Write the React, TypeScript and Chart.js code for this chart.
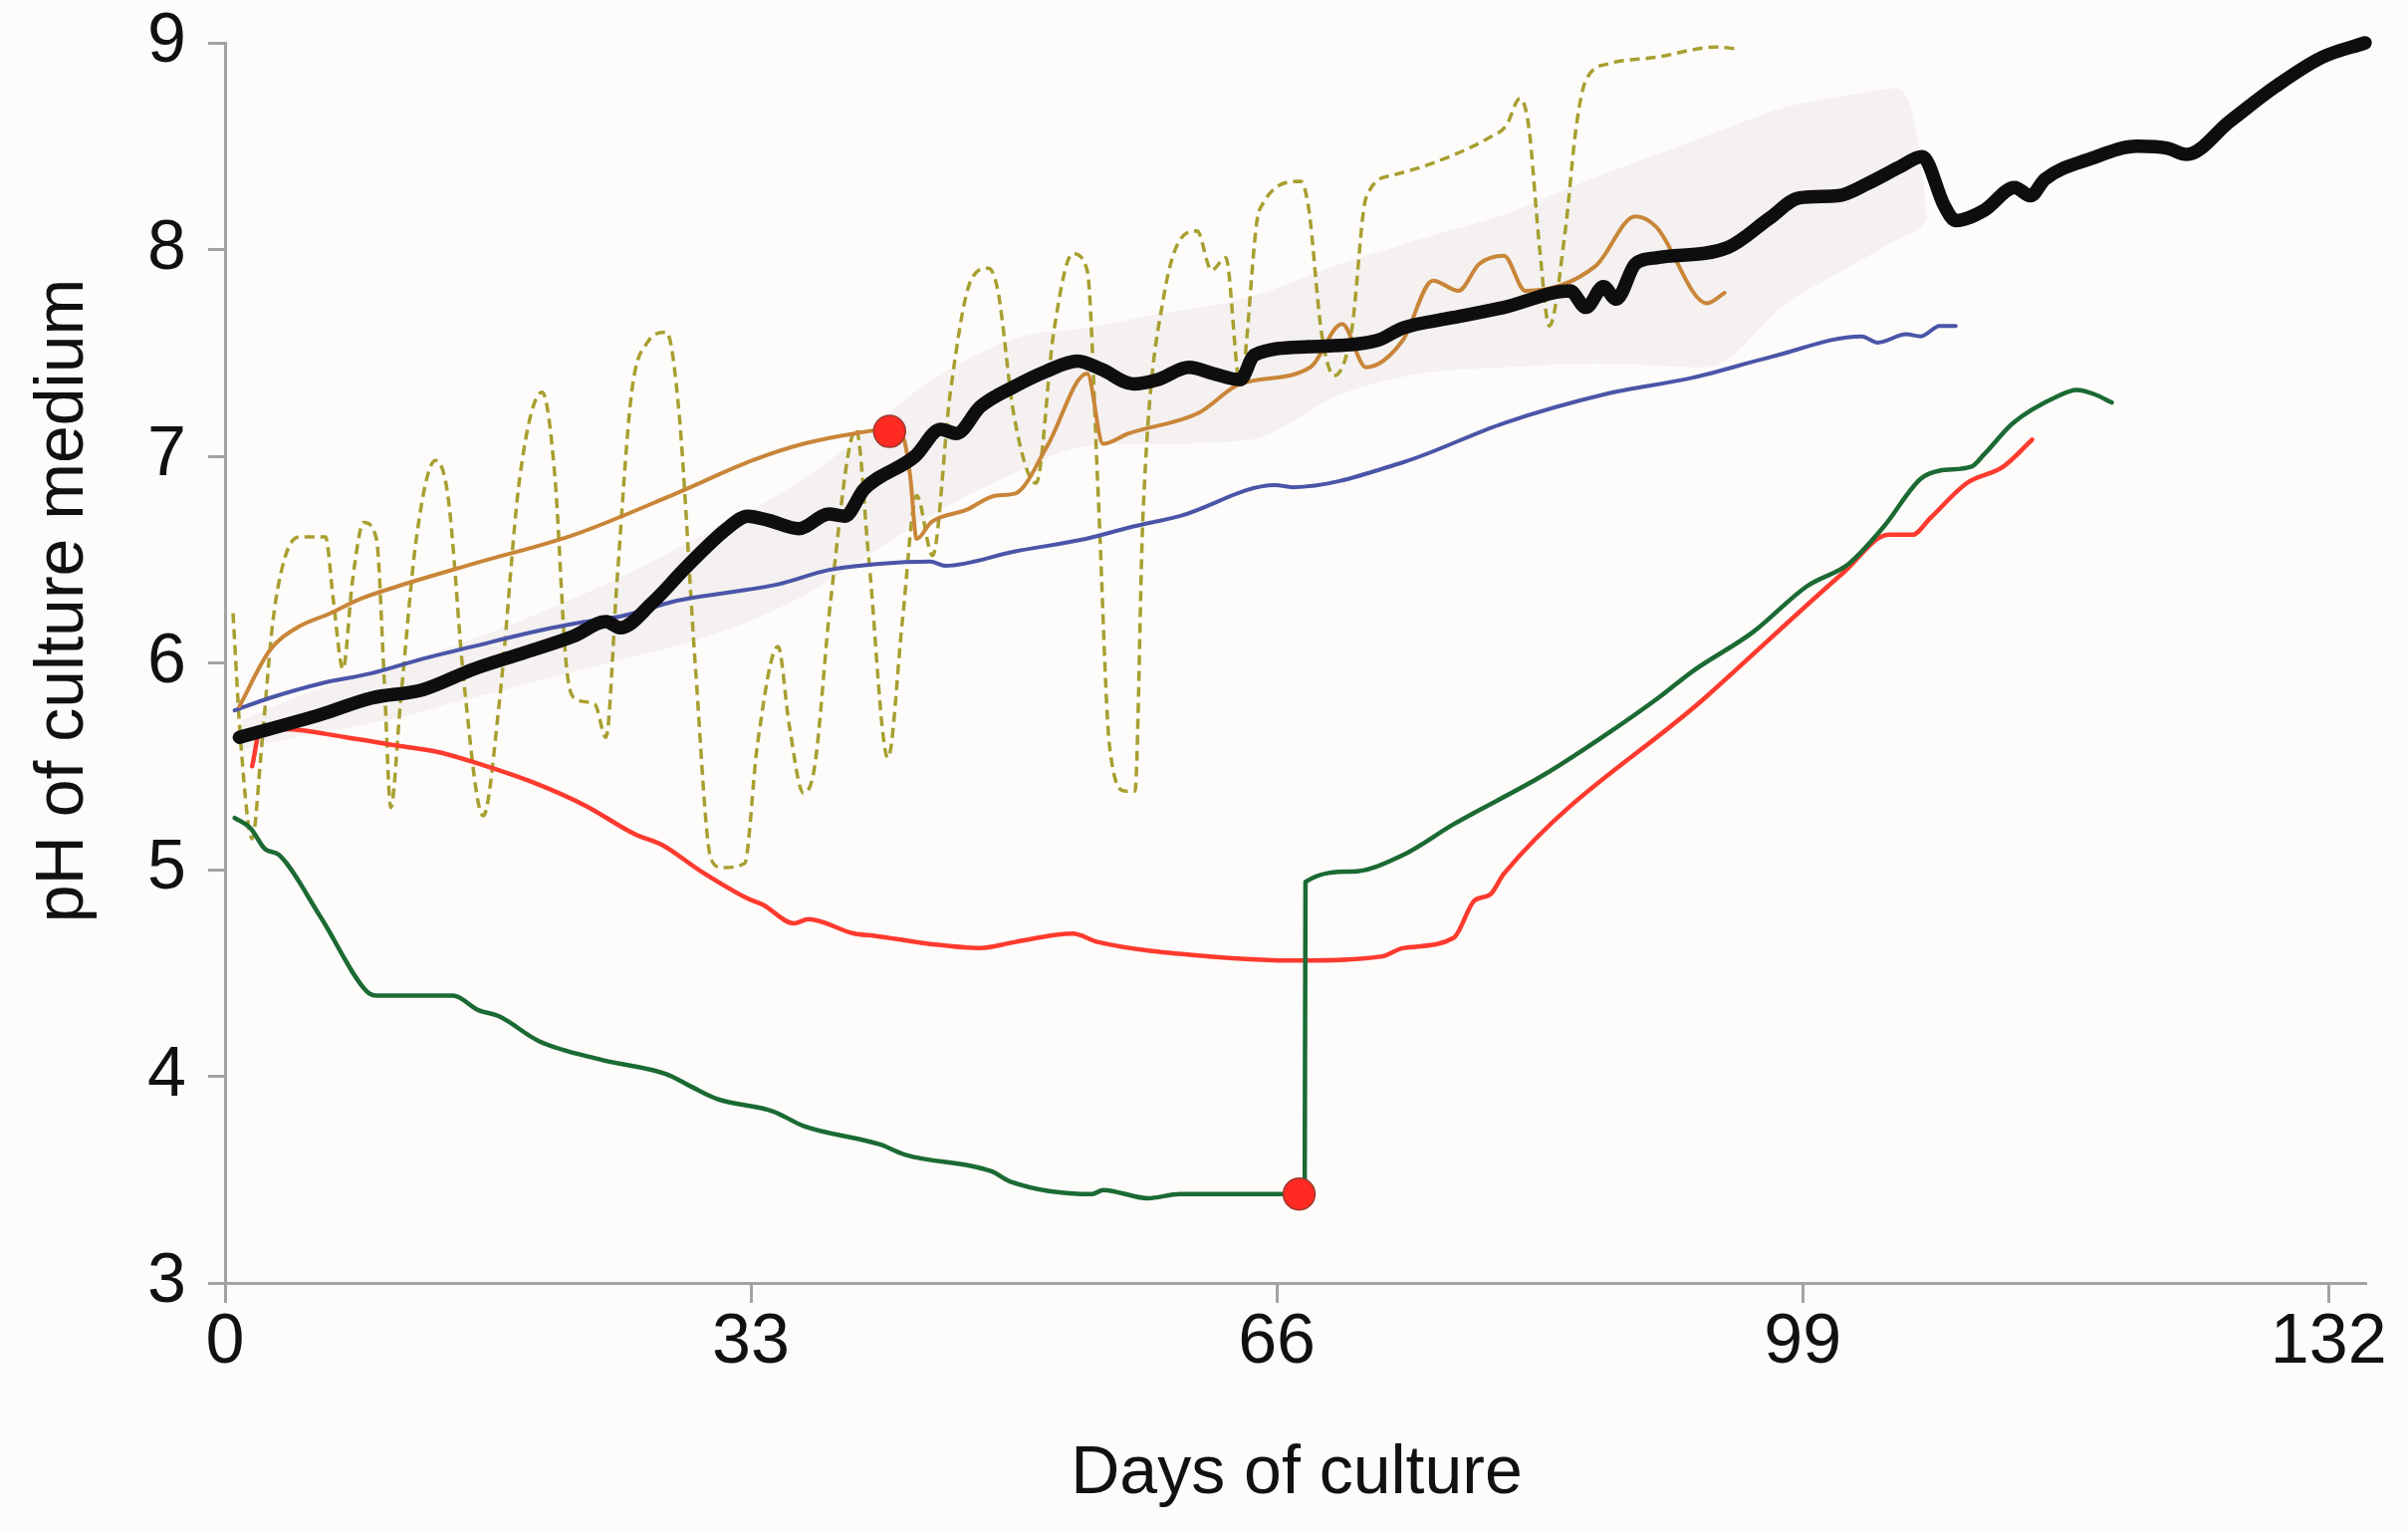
import { useEffect, useRef } from 'react';
import { Chart, registerables } from 'chart.js';

Chart.register(...registerables);

const FONT = '"Liberation Sans", Arial, sans-serif';

const xTicks = [0, 33, 66, 99, 132];

// mean curve (thick black)
const blackDays = [0.9, 6, 9.2, 12.4, 15.6, 18.8, 21.9, 23.9, 24.8, 26.8, 28.9, 31.5, 32.8, 34.1, 36, 37.9, 38.9, 40.1, 43.3, 44.9, 45.9, 47.4, 49.6, 51.5, 53.5, 55, 57, 58.5, 60.5, 62, 63.7, 64.6, 68, 72.3, 73.9, 77, 80.25, 84.4, 85.4, 86.5, 87.3, 88.5, 89.8, 94.3, 96.9, 98.8, 101.2, 103.1, 105.1, 106.5, 107.9, 108.6, 110.4, 112.3, 113.3, 114.2, 117.1, 120, 121.9, 123.1, 125.8, 128.7, 131.6, 134.3];
const blackPh = [5.64, 5.75, 5.83, 5.87, 5.97, 6.05, 6.13, 6.2, 6.17, 6.29, 6.46, 6.65, 6.71, 6.69, 6.65, 6.72, 6.71, 6.84, 7.0, 7.13, 7.11, 7.24, 7.34, 7.41, 7.46, 7.42, 7.35, 7.37, 7.43, 7.4, 7.37, 7.49, 7.53, 7.56, 7.62, 7.67, 7.72, 7.8, 7.72, 7.82, 7.76, 7.93, 7.96, 8.01, 8.15, 8.25, 8.26, 8.32, 8.4, 8.45, 8.21, 8.14, 8.19, 8.3, 8.26, 8.34, 8.44, 8.5, 8.49, 8.46, 8.62, 8.79, 8.93, 9.0];

// shaded band round the mean
const bandDays = [1, 5, 10, 15, 20, 25, 30, 35.7, 40, 44, 49.6, 54, 58, 64.3, 70, 75, 80.25, 86, 93, 98, 102, 105, 106.3, 106.8];
const bandUpper = [5.72, 5.85, 5.97, 6.1, 6.25, 6.42, 6.62, 6.86, 7.1, 7.35, 7.57, 7.62, 7.68, 7.77, 7.93, 8.05, 8.17, 8.35, 8.55, 8.69, 8.75, 8.78, 8.5, 8.15];
const bandLower = [5.58, 5.65, 5.72, 5.82, 5.92, 6.02, 6.12, 6.3, 6.5, 6.7, 6.92, 7.05, 7.06, 7.08, 7.3, 7.4, 7.43, 7.45, 7.43, 7.74, 7.92, 8.05, 8.1, 8.15];

const blueDays = [0.6, 2.8, 6, 9.2, 12.4, 15.6, 18.75, 21.9, 25.1, 28.3, 31.5, 34.7, 37.9, 41.1, 44.25, 45.2, 49.6, 54, 57, 59.9, 65.9, 67, 73.9, 80.25, 86.6, 92.1, 97, 102.7, 103.7, 105.5, 106.4, 107.6, 108.6];
const bluePh = [5.77, 5.83, 5.9, 5.95, 6.02, 6.08, 6.14, 6.19, 6.23, 6.3, 6.34, 6.38, 6.45, 6.48, 6.49, 6.47, 6.54, 6.6, 6.66, 6.71, 6.86, 6.85, 6.97, 7.16, 7.3, 7.38, 7.48, 7.58, 7.55, 7.59, 7.58, 7.63, 7.63];

const orangeDays = [0.9, 2.8, 4.5, 6.6, 8.5, 10.8, 15.6, 21.9, 28.3, 33.1, 36.3, 39.5, 41.7, 42.6, 43.0, 43.4, 44.3, 46.5, 48.4, 49.6, 51.6, 54.1, 55.1, 56.7, 61.1, 63.7, 68.1, 70.1, 71.6, 73.9, 75.8, 77.4, 78.7, 80.25, 81.6, 86, 88.5, 89.8, 93, 94.1];
const orangePh = [5.79, 6.06, 6.17, 6.24, 6.31, 6.37, 6.48, 6.62, 6.82, 6.98, 7.06, 7.11, 7.13, 7.08, 6.9, 6.6, 6.68, 6.74, 6.81, 6.82, 7.05, 7.4, 7.06, 7.11, 7.21, 7.35, 7.43, 7.64, 7.43, 7.56, 7.85, 7.8, 7.93, 7.97, 7.8, 7.92, 8.16, 8.11, 7.74, 7.79];

const oliveDays = [0.5, 1.0, 1.7, 2.3, 3.0, 3.8, 4.7, 6.3, 6.8, 7.4, 8.0, 8.7, 9.5, 10.0, 10.4, 11.0, 12.0, 13.2, 14.0, 15.0, 16.2, 17.2, 18.5, 19.9, 20.7, 21.4, 21.9, 23.2, 23.9, 24.6, 25.5, 26.5, 27.7, 28.5, 29.5, 30.5, 31.2, 32.6, 33.4, 34.7, 35.4, 36.3, 37.0, 38.0, 39.6, 40.4, 41.6, 42.5, 43.4, 44.4, 45.5, 46.8, 47.9, 48.5, 49.5, 50.9, 52.0, 53.2, 54.1, 54.8, 55.5, 56.5, 57.1, 57.6, 58.9, 61.0, 61.9, 62.8, 63.7, 64.9, 67.5, 68.0, 68.8, 69.6, 70.7, 71.6, 73.3, 75.5, 79.3, 80.4, 81.25, 81.8, 82.5, 83.1, 84.1, 84.8, 85.4, 86.9, 89.8, 93.6, 94.9];
const olivePh = [6.24, 5.6, 5.15, 5.6, 6.2, 6.52, 6.61, 6.61, 6.3, 5.97, 6.4, 6.68, 6.6, 5.9, 5.3, 5.8, 6.6, 6.98, 6.8, 5.9, 5.26, 5.8, 6.9, 7.31, 6.9, 6.0, 5.83, 5.8, 5.64, 6.4, 7.3, 7.55, 7.6, 7.2, 6.0, 5.05, 5.01, 5.03, 5.6, 6.08, 5.7, 5.37, 5.5, 6.3, 7.13, 6.5, 5.54, 6.2, 6.81, 6.52, 7.3, 7.85, 7.91, 7.8, 7.2, 6.87, 7.6, 7.98, 7.9, 6.8, 5.6, 5.38, 5.38, 6.71, 7.77, 8.09, 7.9, 7.96, 7.35, 8.19, 8.33, 8.2, 7.6, 7.39, 7.61, 8.25, 8.36, 8.41, 8.54, 8.6, 8.73, 8.6, 8.0, 7.63, 8.09, 8.6, 8.82, 8.9, 8.93, 8.98, 8.97];

const redDays = [1.7, 2.2, 3.75, 7.6, 10.8, 13.3, 15.6, 19.4, 22.6, 25.75, 27.4, 29.9, 32.8, 33.75, 35.7, 36.6, 39.5, 40.75, 44.25, 47.4, 49.6, 53.2, 54.75, 61.75, 67.5, 72.6, 73.9, 77.1, 78.4, 79.4, 80.25, 93, 101.6, 104.4, 105.9, 107, 109.3, 111.6, 113.4];
const redPh = [5.5, 5.67, 5.68, 5.64, 5.6, 5.57, 5.52, 5.42, 5.31, 5.17, 5.12, 4.99, 4.86, 4.83, 4.74, 4.76, 4.69, 4.68, 4.64, 4.62, 4.65, 4.69, 4.65, 4.58, 4.56, 4.58, 4.62, 4.67, 4.85, 4.88, 4.98, 5.84, 6.44, 6.62, 6.62, 6.7, 6.87, 6.95, 7.08];

const greenDays = [0.6, 1.6, 2.5, 3.4, 6, 8.9, 9.5, 14.3, 15.9, 17.2, 19.7, 23.6, 27.7, 29.25, 30.9, 34.4, 36.3, 41.1, 42.7, 48.1, 49.3, 54.4, 55.1, 57.9, 59.9, 67.75, 67.8, 70.7, 73.9, 77.1, 82.8, 86.6, 90.1, 92.1, 95.9, 99.25, 101.9, 104.1, 106.4, 107.6, 109.6, 110.4, 112.2, 115, 116.2, 117.3, 118.4];
const greenPh = [5.25, 5.2, 5.1, 5.07, 4.77, 4.41, 4.39, 4.39, 4.32, 4.29, 4.17, 4.08, 4.01, 3.95, 3.89, 3.83, 3.76, 3.67, 3.62, 3.54, 3.49, 3.43, 3.45, 3.41, 3.43, 3.43, 4.94, 4.99, 5.07, 5.22, 5.46, 5.65, 5.84, 5.96, 6.15, 6.37, 6.48, 6.66, 6.89, 6.93, 6.95, 7.01, 7.16, 7.29, 7.32, 7.3, 7.26];

// red markers
const markerDays = [41.7, 67.4];
const markerPh = [7.12, 3.43];

const toPoints = (days: number[], ph: number[]) => days.map((d, i) => ({ x: d, y: ph[i] }));

const backgroundPlugin = {
  id: 'pageBackground',
  beforeDraw(chart: Chart) {
    const { ctx, width, height } = chart;
    ctx.save();
    ctx.fillStyle = '#fdfcfa';
    ctx.fillRect(0, 0, width, height);
    ctx.restore();
  },
};

const axisTitlesPlugin = {
  id: 'axisTitles',
  afterDraw(chart: Chart) {
    const { ctx } = chart;
    ctx.save();
    ctx.fillStyle = '#111';
    ctx.font = `68px ${FONT}`;
    ctx.textAlign = 'center';
    ctx.textBaseline = 'alphabetic';
    ctx.fillText('Days of culture', 1302, 1499);
    ctx.translate(83, 603);
    ctx.rotate(-Math.PI / 2);
    ctx.fillText('pH of culture medium', 0, 0);
    ctx.restore();
  },
};

function line(days: number[], ph: number[], color: string, width: number, order: number, extra = {}) {
  return {
    data: toPoints(days, ph),
    borderColor: color,
    borderWidth: width,
    pointRadius: 0,
    fill: false,
    cubicInterpolationMode: 'monotone' as const,
    borderJoinStyle: 'round' as const,
    borderCapStyle: 'round' as const,
    clip: 30,
    order,
    ...extra,
  };
}

function PhChart() {
  const chartRef = useRef<HTMLCanvasElement>(null);
  const chartInstance = useRef<Chart | null>(null);

  useEffect(() => {
    if (!chartRef.current) return;
    if (chartInstance.current) chartInstance.current.destroy();
    const ctx = chartRef.current.getContext('2d');
    if (!ctx) return;

    const axisColor = '#a3a3a3';

    chartInstance.current = new Chart(ctx, {
      type: 'line',
      data: {
        datasets: [
          line(bandDays, bandLower, 'rgba(0,0,0,0)', 0, 10),
          { ...line(bandDays, bandUpper, 'rgba(0,0,0,0)', 0, 10), fill: '-1', backgroundColor: '#f4f1f0' },
          line(oliveDays, olivePh, '#a89f30', 3.5, 6, { borderDash: [10, 6], borderCapStyle: 'butt' }),
          line(blueDays, bluePh, '#4a55a8', 4, 5),
          line(orangeDays, orangePh, '#c98538', 4, 4),
          line(redDays, redPh, '#ff3a2e', 4.5, 3),
          line(greenDays, greenPh, '#1b6a33', 4.5, 2),
          line(blackDays, blackPh, '#0e0e0e', 13.5, 1),
          {
            data: toPoints(markerDays, markerPh),
            showLine: false,
            pointRadius: 16,
            pointBackgroundColor: '#ff2b22',
            pointBorderColor: '#9a3a30',
            pointBorderWidth: 1.5,
            clip: 30,
            order: 0,
          },
        ] as any,
      },
      options: {
        animation: false,
        responsive: false,
        devicePixelRatio: 1,
        layout: { padding: { top: 43, right: 43, left: 0, bottom: 0 } },
        plugins: { legend: { display: false }, tooltip: { enabled: false } },
        scales: {
          x: {
            type: 'linear',
            min: 0,
            max: 134.3,
            border: { color: axisColor, width: 3 },
            grid: { drawOnChartArea: false, drawTicks: true, tickLength: 20, color: axisColor, lineWidth: 3 },
            ticks: { color: '#111', font: { family: FONT, size: 70, lineHeight: 1.1 }, padding: 2, autoSkip: false, maxRotation: 0 },
            afterBuildTicks: (scale: any) => {
              scale.ticks = xTicks.map(v => ({ value: v }));
            },
            afterFit: (scale: any) => {
              scale.height = 251;
            },
          },
          y: {
            type: 'linear',
            min: 3,
            max: 9,
            border: { color: axisColor, width: 3 },
            grid: { drawOnChartArea: false, drawTicks: true, tickLength: 17, color: axisColor, lineWidth: 3 },
            // small lineHeight keeps the label overflow from pushing the plot area down
            ticks: { stepSize: 1, color: '#111', font: { family: FONT, size: 70, lineHeight: 0.5 }, padding: 22 },
            afterFit: (scale: any) => {
              scale.width = 226;
            },
          },
        },
      },
      plugins: [backgroundPlugin, axisTitlesPlugin],
    });

    return () => {
      if (chartInstance.current) {
        chartInstance.current.destroy();
        chartInstance.current = null;
      }
    };
  }, []);

  return <canvas ref={chartRef} width={2418} height={1539} style={{ width: 2418, height: 1539, display: 'block' }} />;
}

export default function App() {
  return (
    <div style={{ position: 'absolute', left: 0, top: 0, width: 2418, height: 1539, background: '#fdfcfa' }}>
      <PhChart />
    </div>
  );
}
